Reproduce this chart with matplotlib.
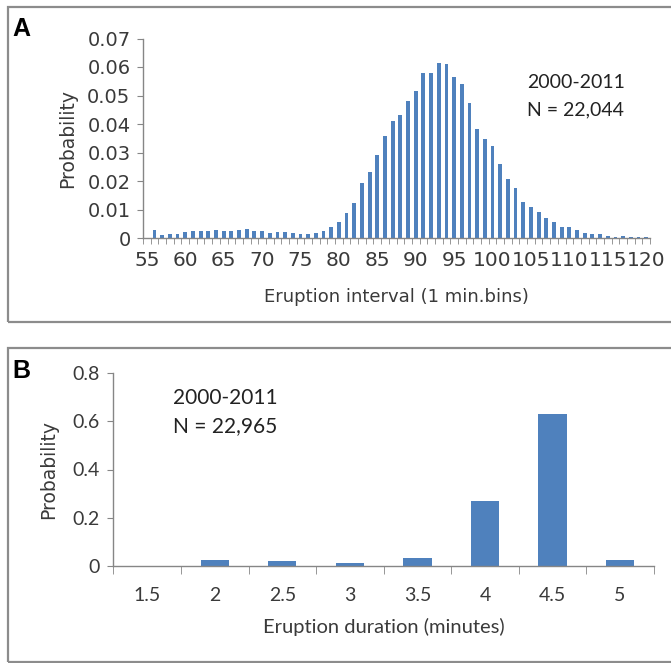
import matplotlib.pyplot as plt
from matplotlib.patches import Rectangle
import numpy as np

# panel A: eruption interval histogram (1 min bins)
interval_min = list(range(55, 121))
interval_prob = [
    0.0, 0.0029, 0.0011, 0.0013, 0.0013, 0.0020, 0.0025, 0.0025, 0.0023, 0.0027,
    0.0025, 0.0024, 0.0027, 0.0031, 0.0026, 0.0024, 0.0019, 0.0020, 0.0020, 0.0018,
    0.0015, 0.0014, 0.0018, 0.0024, 0.0039, 0.0057, 0.0088, 0.0124, 0.0194, 0.0232,
    0.0290, 0.0359, 0.0410, 0.0432, 0.0479, 0.0515, 0.0580, 0.0580, 0.0613, 0.0610,
    0.0565, 0.0542, 0.0473, 0.0383, 0.0347, 0.0322, 0.0260, 0.0206, 0.0174, 0.0128,
    0.0108, 0.0090, 0.0070, 0.0056, 0.0040, 0.0038, 0.0027, 0.0019, 0.0014, 0.0013,
    0.0006, 0.0002, 0.0007, 0.0003, 0.0002, 0.0002,
]
a_yticks = [0, 0.01, 0.02, 0.03, 0.04, 0.05, 0.06, 0.07]
a_ytick_labels = ["0", "0.01", "0.02", "0.03", "0.04", "0.05", "0.06", "0.07"]

# panel B: eruption duration
duration_labels = ["1.5", "2", "2.5", "3", "3.5", "4", "4.5", "5"]
duration_prob = [0.0, 0.024, 0.019, 0.011, 0.031, 0.267, 0.632, 0.025]
b_yticks = [0, 0.2, 0.4, 0.6, 0.8]
b_ytick_labels = ["0", "0.2", "0.4", "0.6", "0.8"]

BLUE = "#4F81BD"
GREY = "#868686"
TXT = "#3a3a3a"
W, H = 671, 663

fig = plt.figure(figsize=(W / 100, H / 100), dpi=100)


def ax_rect(x0, y0, x1, y1):
    # pixel box (top-left origin) -> figure fraction
    return [x0 / W, 1 - y1 / H, (x1 - x0) / W, (y1 - y0) / H]


def style_axes(ax):
    for s in ["top", "right"]:
        ax.spines[s].set_visible(False)
    for s in ["left", "bottom"]:
        ax.spines[s].set_color(GREY)
        ax.spines[s].set_linewidth(1.0)


# panel borders
for (y0, y1) in [(6.7, 322), (348, 661.5)]:
    fig.patches.append(Rectangle((8 / W, 1 - y1 / H), (W + 5 - 8) / W, (y1 - y0) / H,
                                 transform=fig.transFigure, fill=False,
                                 edgecolor="#8c8c8c", linewidth=1.6, clip_on=False))

# ---- panel A ----
axA = fig.add_axes(ax_rect(143, 38.5, 650, 238))
xa = np.arange(len(interval_min))
axA.bar(xa, interval_prob, width=0.5, color=BLUE)
axA.set_xlim(-0.5, len(interval_min) - 0.5)
axA.set_ylim(0, 0.07)
style_axes(axA)
lab_idx = [i for i, v in enumerate(interval_min) if v % 5 == 0]
axA.set_xticks(lab_idx)
axA.set_xticklabels([str(interval_min[i]) for i in lab_idx], fontsize=14.5,
                    family="DejaVu Sans", color=TXT)
axA.set_xticks(np.arange(len(interval_min) + 1) - 0.5, minor=True)
axA.tick_params(axis="x", which="major", length=0, pad=9)
axA.tick_params(axis="x", which="minor", length=4, color=GREY, direction="out")
axA.set_yticks(a_yticks)
axA.set_yticklabels(a_ytick_labels, fontsize=14, family="DejaVu Sans", color=TXT)
axA.tick_params(axis="y", length=4, color=GREY, pad=5)
axA.set_ylabel("Probability", fontsize=13.5, family="DejaVu Sans", color=TXT)
axA.yaxis.set_label_coords(-0.148, 0.5)
axA.yaxis.label.set_va("center")
axA.set_xlabel("Eruption interval (1 min.bins)", fontsize=13, family="DejaVu Sans",
               color=TXT)
axA.xaxis.set_label_coords(0.5, -0.296)
axA.xaxis.label.set_va("center")
fig.text(12 / W, 1 - 29 / H, "A", fontsize=18, fontweight="bold", va="center",
         family="Liberation Sans")
fig.text(527 / W, 1 - 83 / H, "2000-2011", fontsize=14, family="Lato", va="center",
         color="#222222")
fig.text(527 / W, 1 - 110 / H, "N = 22,044", fontsize=14, family="Lato", va="center",
         color="#222222")

# ---- panel B ----
axB = fig.add_axes(ax_rect(113.4, 373.3, 653.8, 565.7))
xb = np.arange(len(duration_labels))
axB.bar(xb, duration_prob, width=0.42, color=BLUE)
axB.set_xlim(-0.5, len(duration_labels) - 0.5)
axB.set_ylim(0, 0.8)
style_axes(axB)
axB.set_xticks(xb)
axB.set_xticklabels(duration_labels, fontsize=14, family="Lato", color=TXT)
axB.set_xticks(np.arange(len(duration_labels) + 1) - 0.5, minor=True)
axB.tick_params(axis="x", which="major", length=0, pad=15)
axB.tick_params(axis="x", which="minor", length=6, color=GREY, direction="out")
axB.set_yticks(b_yticks)
axB.set_yticklabels(b_ytick_labels, fontsize=14, family="Lato", color=TXT)
axB.tick_params(axis="y", length=4, color=GREY, pad=6)
axB.set_ylabel("Probability", fontsize=13.5, family="DejaVu Sans", color=TXT)
axB.yaxis.set_label_coords(-0.119, 0.5)
axB.yaxis.label.set_va("center")
axB.set_xlabel("Eruption duration (minutes)", fontsize=14.5, family="Lato",
               color=TXT)
axB.xaxis.set_label_coords(0.5, -0.319)
axB.xaxis.label.set_va("center")
fig.text(12 / W, 1 - 371 / H, "B", fontsize=18, fontweight="bold", va="center",
         family="Liberation Sans")
fig.text(173 / W, 1 - 398.5 / H, "2000-2011", fontsize=15, family="Lato", va="center",
         color="#222222")
fig.text(173 / W, 1 - 426 / H, "N = 22,965", fontsize=15, family="Lato", va="center",
         color="#222222")

fig.savefig("out.png", dpi=100)
